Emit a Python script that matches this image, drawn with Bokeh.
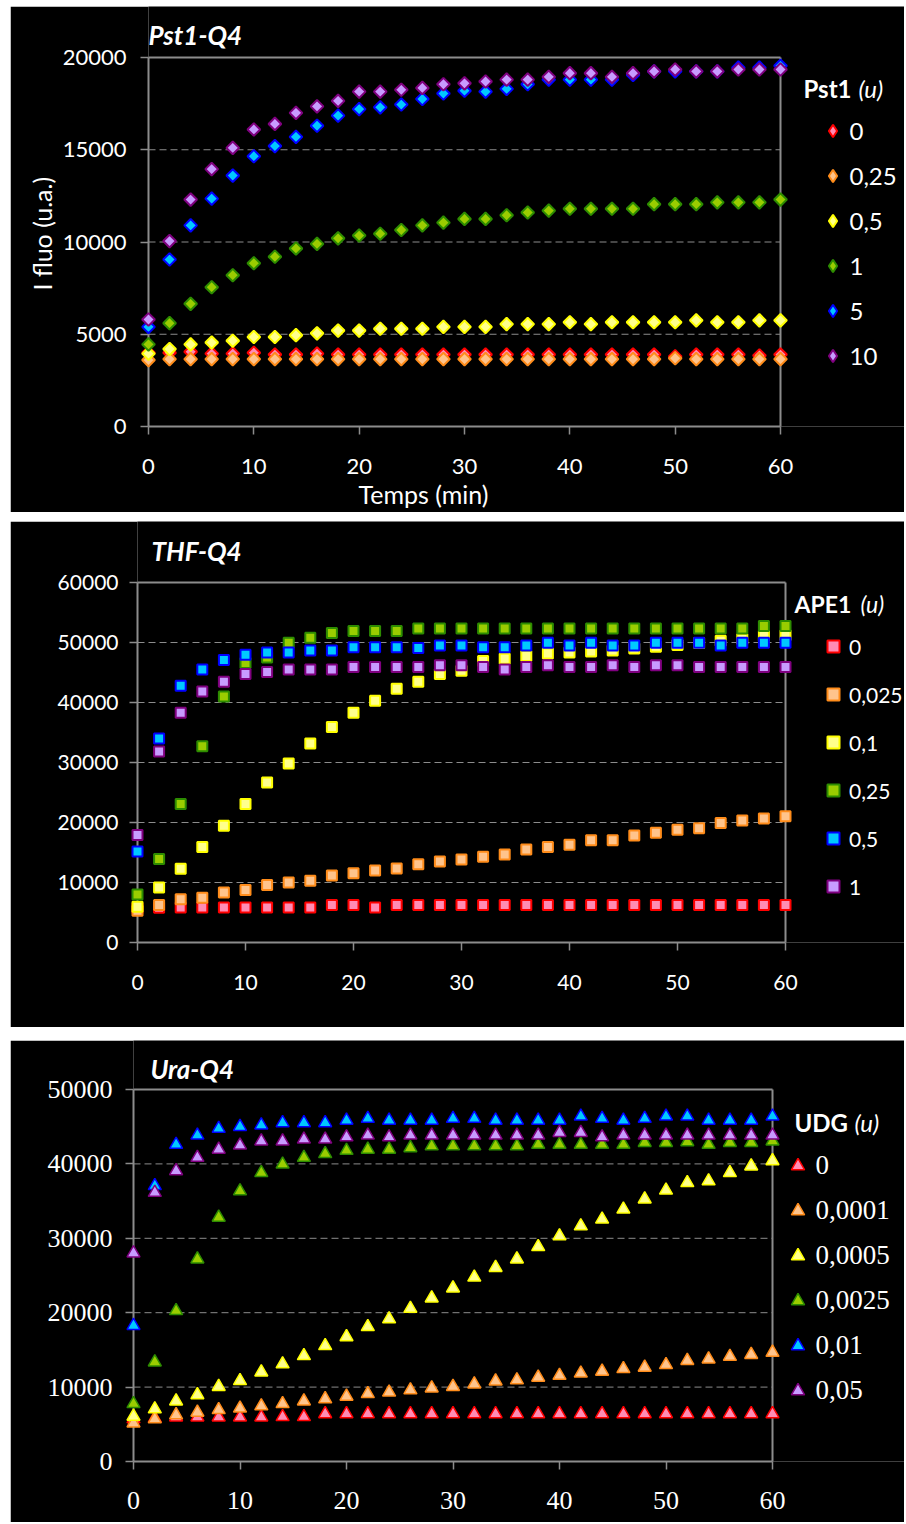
from bokeh.plotting import figure
from bokeh.models import (FixedTicker, Legend, LegendItem, Spacer, Title,
                          Range1d, Label, ColumnDataSource)
from bokeh.layouts import column, row
from bokeh.embed import file_html
from bokeh.resources import INLINE

# ------------------------------------------------------------------ data
time_min = [0, 2, 4, 6, 8, 10, 12, 14, 16, 18, 20, 22, 24, 26, 28, 30,
            32, 34, 36, 38, 40, 42, 44, 46, 48, 50, 52, 54, 56, 58, 60]
x_ticks = [0, 10, 20, 30, 40, 50, 60]

# Panel 1 : Pst1-Q4
pst1_title = "Pst1-Q4"
pst1_legend_title = "Pst1"
pst1_legend = ["0", "0,25", "0,5", "1", "5", "10"]
pst1_y_ticks = [0, 5000, 10000, 15000, 20000]
pst1_0 = [4000, 4000, 4050, 3950, 3950, 4000, 3900, 3900, 3950, 3900,
          3900, 3900, 3900, 3900, 3900, 3900, 3900, 3900, 3900, 3900,
          3900, 3900, 3900, 3900, 3900, 3800, 3900, 3900, 3900, 3850,
          3900]
pst1_025 = [3600, 3650, 3650, 3650, 3650, 3650, 3650, 3650, 3650, 3650,
            3650, 3650, 3650, 3650, 3650, 3650, 3650, 3650, 3650, 3650,
            3650, 3650, 3650, 3650, 3650, 3700, 3650, 3650, 3650, 3650,
            3650]
pst1_05 = [3950, 4200, 4450, 4550, 4650, 4850, 4850, 4950, 5050, 5200,
           5200, 5300, 5300, 5300, 5400, 5400, 5400, 5550, 5550, 5550,
           5650, 5550, 5650, 5650, 5650, 5650, 5750, 5650, 5650, 5750,
           5750]
pst1_1 = [4450, 5600, 6650, 7550, 8200, 8850, 9200, 9650, 9900, 10200,
          10350, 10450, 10650, 10900, 11050, 11250, 11250, 11450, 11600, 11700,
          11800, 11800, 11800, 11800, 12050, 12050, 12050, 12150, 12150, 12150,
          12300]
pst1_5 = [5400, 9050, 10900, 12350, 13600, 14650, 15200, 15700, 16300, 16850,
          17200, 17300, 17450, 17750, 18050, 18200, 18150, 18300, 18550, 18800,
          18800, 18800, 18800, 19050, 19250, 19250, 19250, 19250, 19450, 19450,
          19550]
pst1_10 = [5800, 10050, 12300, 13950, 15100, 16100, 16400, 17000, 17350, 17650,
           18150, 18150, 18250, 18350, 18550, 18600, 18700, 18800, 18800, 18950,
           19150, 19150, 18950, 19150, 19250, 19350, 19250, 19250, 19350, 19350,
           19350]

# Panel 2 : THF-Q4
ape1_title = "THF-Q4"
ape1_legend_title = "APE1"
ape1_legend = ["0", "0,025", "0,1", "0,25", "0,5", "1"]
ape1_y_ticks = [0, 10000, 20000, 30000, 40000, 50000, 60000]
ape1_0 = [5700, 5800, 5850, 5850, 5850, 5850, 5850, 5850, 5850, 6250,
          6250, 5850, 6250, 6250, 6250, 6250, 6250, 6250, 6250, 6250,
          6250, 6250, 6250, 6250, 6250, 6250, 6250, 6250, 6250, 6250,
          6250]
ape1_0025 = [5300, 6250, 7200, 7450, 8350, 8750, 9600, 10000, 10300, 11150,
             11550, 12000, 12350, 13050, 13500, 13850, 14300, 14650, 15500, 15900,
             16300, 17050, 17050, 17850, 18300, 18800, 19050, 19900, 20350, 20650,
             21050]
ape1_01 = [5950, 9150, 12300, 15900, 19450, 23100, 26650, 29850, 33150, 35900,
           38300, 40300, 42300, 43450, 44750, 45300, 46900, 47300, 47750, 48150,
           48350, 48500, 48650, 49000, 49300, 49600, 49900, 50300, 50600, 51100,
           51200]
ape1_025 = [8000, 13900, 23100, 32700, 41000, 46600, 47500, 49950, 50800, 51600,
            51900, 51900, 51900, 52350, 52350, 52350, 52350, 52350, 52350, 52350,
            52350, 52350, 52350, 52350, 52350, 52350, 52350, 52350, 52350, 52750,
            52750]
ape1_05 = [15150, 34000, 42800, 45500, 47100, 47950, 48350, 48350, 48650, 48650,
           49200, 49200, 49200, 49100, 49500, 49500, 49200, 49200, 49500, 49950,
           49500, 49950, 49500, 49500, 49950, 49950, 49950, 49500, 49950, 49950,
           49950]
ape1_1 = [17900, 31850, 38300, 41850, 43450, 44750, 45100, 45500, 45500, 45500,
          45900, 45900, 45900, 45900, 46200, 46200, 45900, 45500, 45900, 46200,
          45900, 45900, 46200, 45900, 46200, 46200, 45900, 45900, 45900, 45900,
          45900]

# Panel 3 : Ura-Q4
udg_title = "Ura-Q4"
udg_legend_title = "UDG"
udg_legend = ["0", "0,0001", "0,0005", "0,0025", "0,01", "0,05"]
udg_y_ticks = [0, 10000, 20000, 30000, 40000, 50000]
udg_0 = [5700, 5800, 5950, 5950, 5950, 5950, 5950, 6000, 6000, 6400,
         6400, 6400, 6400, 6400, 6400, 6400, 6400, 6400, 6400, 6400,
         6400, 6400, 6400, 6400, 6400, 6400, 6400, 6400, 6400, 6400,
         6400]
udg_00001 = [5150, 5700, 6250, 6600, 6950, 7150, 7450, 7750, 8100, 8400,
             8750, 9100, 9300, 9600, 9850, 10050, 10400, 10800, 10950, 11300,
             11550, 11850, 12100, 12450, 12650, 13000, 13550, 13750, 14100, 14350,
             14650]
udg_00005 = [6050, 7050, 8100, 8950, 10050, 10850, 12000, 13100, 14200, 15550,
             16750, 18100, 19150, 20550, 21950, 23300, 24750, 26050, 27200, 28850,
             30300, 31650, 32550, 33900, 35250, 36450, 37450, 37700, 38800, 39700,
             40400]
udg_00025 = [7750, 13350, 20250, 27200, 32800, 36350, 38800, 39950, 40850, 41350,
             41800, 41950, 41950, 42150, 42400, 42400, 42400, 42400, 42400, 42600,
             42600, 42600, 42600, 42600, 42850, 42850, 42950, 42600, 42850, 42850,
             43050]
udg_001 = [18250, 37050, 42600, 43850, 44750, 45000, 45200, 45500, 45500, 45500,
           45850, 46100, 45850, 45850, 45850, 46100, 46100, 45850, 45850, 45850,
           45850, 46400, 46100, 45850, 46100, 46400, 46400, 45850, 45850, 45850,
           46400]
udg_005 = [28000, 36150, 39050, 40850, 41950, 42500, 43050, 43050, 43300, 43300,
           43600, 43850, 43600, 43850, 43850, 43850, 43850, 43850, 43850, 43850,
           44200, 44200, 43600, 43850, 43850, 43850, 43850, 43850, 43850, 43850,
           43850]

# ------------------------------------------------------------------ style
LINE_COLORS = ["#ff0000", "#ff8c1a", "#ffff00", "#2d8c00", "#0000ff", "#7f007f"]
FILL_COLORS = ["#ff8cb4", "#ffc48c", "#ffff8c", "#9acd00", "#00c8ff", "#c89bff"]
GRAY = "#8c8c8c"
SANS = "Lato"
SERIF = "Liberation Serif"
FIG_W = 894
PAGE_LEFT = 10
LABEL_SHIFT = 10   # rendered baseline sits this much lower than requested


def build_panel(c):
    mbl, mbb, H = c["mbl"], c["mbb"], c["h"]
    fw, fh = FIG_W - mbl, H - mbb
    yt = c["y_ticks"]
    xmax = x_ticks[-1] * fw / c["xpx"]
    ymax = yt[-1] * fh / c["ypx"]
    p = figure(width=FIG_W, height=H,
               x_range=Range1d(x_ticks[0], xmax), y_range=Range1d(yt[0], ymax),
               toolbar_location=None, output_backend="svg",
               min_border_left=mbl, min_border_right=0,
               min_border_top=0, min_border_bottom=mbb,
               background_fill_color="black", border_fill_color="black",
               outline_line_color=None)
    p.grid.visible = False

    frame_left = PAGE_LEFT + mbl
    frame_bottom = c["top"] + fh

    def dx(px):
        return (px - frame_left) / fw * xmax

    def dy(py):
        return (frame_bottom - py) / fh * ymax

    tf, ts = c["tick_font"], c["tick_size"]
    for ax in (p.xaxis[0], p.yaxis[0]):
        ax.axis_line_color = GRAY
        ax.axis_line_width = 2
        ax.major_tick_line_color = GRAY
        ax.major_tick_line_width = 1.5
        ax.major_tick_in = 0
        ax.major_tick_out = 8
        ax.minor_tick_line_color = None
        ax.major_label_text_color = "white"
        ax.major_label_text_font = tf
        ax.major_label_text_font_size = ts
    p.xaxis.ticker = FixedTicker(ticks=x_ticks)
    p.yaxis.ticker = FixedTicker(ticks=yt)
    p.xaxis.bounds = (x_ticks[0], x_ticks[-1])
    p.yaxis.bounds = (yt[0], yt[-1])
    p.xaxis.major_label_standoff = c["xstand"]
    p.yaxis.major_label_standoff = c["ystand"]

    # dashed gridlines and the top / right sides of the plot box
    gy = yt[1:-1]
    p.segment(x0=[x_ticks[0]] * len(gy), x1=[x_ticks[-1]] * len(gy),
              y0=gy, y1=gy, line_color=GRAY, line_width=1, line_dash="7 4")
    p.segment(x0=[x_ticks[0], x_ticks[-1]], x1=[x_ticks[-1], x_ticks[-1]],
              y0=[yt[-1], yt[0]], y1=[yt[-1], yt[-1]],
              line_color=GRAY, line_width=2)

    rends = []
    for vals, lc, fc in zip(c["series"], LINE_COLORS, FILL_COLORS):
        r = p.scatter(x=time_min, y=vals, marker=c["marker"], size=c["msize"],
                      angle=c["mangle"], line_color=lc, fill_color=fc,
                      line_width=c["mlw"], level="overlay")
        rends.append(r)

    leg_rends = rends
    if c.get("leg_marker"):
        leg_rends = []
        for vals, lc, fc in zip(c["series"], LINE_COLORS, FILL_COLORS):
            src = ColumnDataSource(dict(x=[time_min[0]], y=[float("nan")]))
            leg_rends.append(p.scatter(x="x", y="y", source=src,
                                       marker=c["leg_marker"], size=c["msize"],
                                       line_color=lc, fill_color=fc,
                                       line_width=c["mlw"]))

    GW, LH, LS = c["leg_gw"], c["leg_h"], c["leg_s"]
    n = len(rends)
    leg_left = c["leg_cx"] - GW / 2
    leg_bottom = c["leg_cy"] - LH / 2 + n * LH + (n - 1) * LS
    legend = Legend(items=[LegendItem(label=lab, renderers=[r])
                           for lab, r in zip(c["labels"], leg_rends)],
                    location=(float(leg_left - frame_left),
                              float(frame_bottom - leg_bottom)),
                    orientation="vertical", padding=0, margin=0,
                    spacing=LS, glyph_height=LH, glyph_width=GW,
                    label_height=LH,
                    label_standoff=max(0, int(round(c["leg_tx"] - (leg_left + GW)))),
                    background_fill_alpha=0, border_line_alpha=0,
                    label_text_color="white", label_text_font=c["leg_font"],
                    label_text_font_size=c["leg_size"])
    p.add_layout(legend)

    def lab(px, py, text, size, style="normal"):
        p.add_layout(Label(x=dx(px), y=dy(py - LABEL_SHIFT), text=text,
                           text_color="white", text_font=SANS,
                           text_font_size=size, text_font_style=style,
                           text_align="left", text_baseline="alphabetic"))

    tx, tb = c["title_pos"]
    lab(tx, tb, c["title"], "26px", "bold italic")
    lx, lb = c["legt_pos"]
    lab(lx, lb, c["legt"], c["legt_size"], "bold")
    lab(c["legu_x"], lb, "(u)", c["legt_size"], "italic")

    if c.get("axis_labels"):
        p.add_layout(Title(text="I fluo (u.a.)", align="left", offset=136,
                           text_color="white", text_font=SANS,
                           text_font_style="normal", text_font_size="25px",
                           standoff=5), "left")
        p.add_layout(Title(text="Temps (min)", align="left", offset=210,
                           text_color="white", text_font=SANS,
                           text_font_style="normal", text_font_size="25px",
                           standoff=0), "below")
    return p


p1 = build_panel(dict(
    top=6, h=506, mbl=138, mbb=86, xpx=632, ypx=369,
    y_ticks=pst1_y_ticks, labels=pst1_legend,
    series=[pst1_0, pst1_025, pst1_05, pst1_1, pst1_5, pst1_10],
    marker="square", msize=9, mangle=0.785398, mlw=2, leg_marker="diamond",
    tick_font=SANS, tick_size="22px", ystand=14, xstand=24,
    leg_cx=832, leg_cy=130, leg_gw=31, leg_h=31, leg_s=14, leg_tx=850,
    leg_font=SANS, leg_size="24px",
    legt=pst1_legend_title, legt_size="24px", legt_pos=(803, 98), legu_x=858,
    title=pst1_title, title_pos=(148, 44), axis_labels=True))

p2 = build_panel(dict(
    top=521, h=506, mbl=127, mbb=85, xpx=648, ypx=360,
    y_ticks=ape1_y_ticks, labels=ape1_legend,
    series=[ape1_0, ape1_0025, ape1_01, ape1_025, ape1_05, ape1_1],
    marker="square", msize=10, mangle=0, mlw=2,
    tick_font=SANS, tick_size="21px", ystand=11, xstand=24,
    leg_cx=833, leg_cy=646, leg_gw=30, leg_h=32, leg_s=16, leg_tx=849,
    leg_font=SANS, leg_size="21px",
    legt=ape1_legend_title, legt_size="23px", legt_pos=(794, 613), legu_x=860,
    title=ape1_title, title_pos=(151, 560.7)))

p3 = build_panel(dict(
    top=1040, h=482, mbl=123, mbb=61, xpx=639, ypx=372,
    y_ticks=udg_y_ticks, labels=udg_legend,
    series=[udg_0, udg_00001, udg_00005, udg_00025, udg_001, udg_005],
    marker="triangle", msize=13, mangle=0, mlw=1.5,
    tick_font=SERIF, tick_size="26px", ystand=13, xstand=22,
    leg_cx=797, leg_cy=1165, leg_gw=33, leg_h=33, leg_s=12, leg_tx=815,
    leg_font=SERIF, leg_size="27px",
    legt=udg_legend_title, legt_size="24px", legt_pos=(794, 1131.7), legu_x=854,
    title=udg_title, title_pos=(150, 1078.3)))

root1 = row(Spacer(width=PAGE_LEFT, height=10),
            column(Spacer(width=FIG_W, height=6), p1))
root2 = row(Spacer(width=PAGE_LEFT, height=10),
            column(Spacer(width=FIG_W, height=9), p2))
root3 = row(Spacer(width=PAGE_LEFT, height=10),
            column(Spacer(width=FIG_W, height=13), p3))

with open("out.html", "w") as f:
    f.write(file_html([root1, root2, root3], INLINE, title="Q4 fluorescence"))
